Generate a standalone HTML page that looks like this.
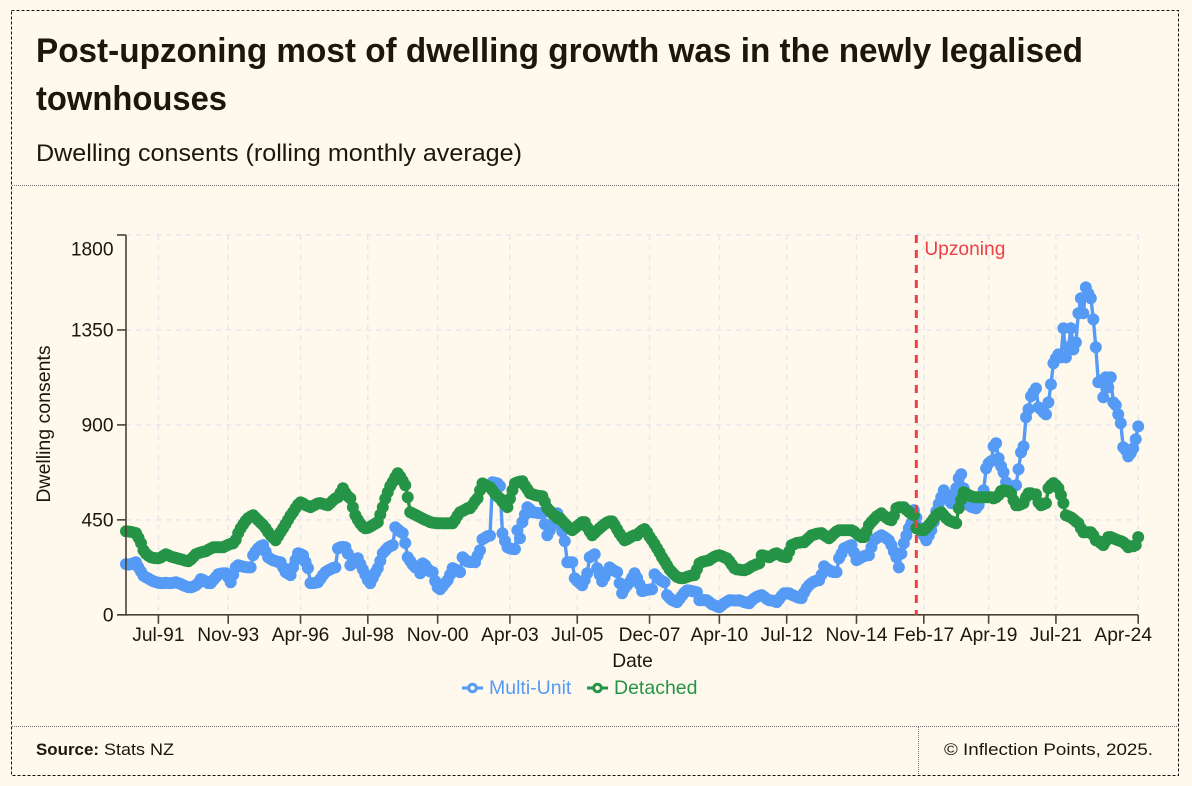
<!DOCTYPE html>
<html lang="en">
<head>
<meta charset="utf-8">
<title>Post-upzoning dwelling growth</title>
<style>
html,body{margin:0;padding:0;background:#FFF9ED;}
svg{display:block;}
text{font-family:"Liberation Sans",Arial,sans-serif;fill:#1c1708;}
</style>
</head>
<body>
<svg id="page" xmlns="http://www.w3.org/2000/svg" width="1192" height="786" viewBox="0 0 1192 786">
  <rect x="0" y="0" width="1192" height="786" fill="#FFF9ED"/>
  <rect x="11.5" y="10.5" width="1167" height="765" fill="none" stroke="#111" stroke-width="1" stroke-dasharray="3 2"/>
  <line x1="12" x2="1178" y1="185.5" y2="185.5" stroke="#777" stroke-width="1" stroke-dasharray="1 1"/>
  <line x1="12" x2="1178" y1="726.5" y2="726.5" stroke="#777" stroke-width="1" stroke-dasharray="1 1"/>
  <line x1="918.5" x2="918.5" y1="727" y2="775" stroke="#777" stroke-width="1" stroke-dasharray="1 1"/>

  <text x="36" y="62" font-size="34" font-weight="700" textLength="1047" lengthAdjust="spacingAndGlyphs">Post-upzoning most of dwelling growth was in the newly legalised</text>
  <text x="36" y="110" font-size="34" font-weight="700" textLength="191" lengthAdjust="spacingAndGlyphs">townhouses</text>
  <text x="36" y="161" font-size="24" textLength="486" lengthAdjust="spacingAndGlyphs">Dwelling consents (rolling monthly average)</text>

  <g id="plot"></g>

  <text transform="translate(50 424) rotate(-90)" text-anchor="middle" font-size="19.5">Dwelling consents</text>
  <text x="632.5" y="667" text-anchor="middle" font-size="19.2">Date</text>

  <g>
    <line x1="462" x2="483" y1="688" y2="688" stroke="#559BF5" stroke-width="3"/>
    <circle cx="472.5" cy="688" r="3.8" fill="#FFF9ED" stroke="#559BF5" stroke-width="3"/>
    <text x="489" y="694" font-size="19.5" style="fill:#559BF5">Multi-Unit</text>
  </g>
  <g>
    <line x1="587" x2="608" y1="688" y2="688" stroke="#269447" stroke-width="3"/>
    <circle cx="597.5" cy="688" r="3.8" fill="#FFF9ED" stroke="#269447" stroke-width="3"/>
    <text x="614" y="694" font-size="19.5" style="fill:#269447">Detached</text>
  </g>

  <text x="36" y="755" font-size="17" font-weight="700" textLength="63" lengthAdjust="spacingAndGlyphs">Source:</text>
  <text x="104" y="755" font-size="17" textLength="70" lengthAdjust="spacingAndGlyphs">Stats NZ</text>
  <text x="944" y="755" font-size="17" textLength="209" lengthAdjust="spacingAndGlyphs">© Inflection Points, 2025.</text>
</svg>

<script>
const firstMonth = 'Jun-90';
const multiUnit = [
240,238,240,245,249,225,205,185,178,172,
165,159,155,152,150,150,152,150,150,152,
154,150,146,140,135,131,130,134,140,150,
169,165,158,150,150,165,178,192,195,197,
197,178,154,190,225,235,232,228,226,225,
225,282,300,315,325,330,300,273,265,258,
255,250,249,225,202,195,188,225,260,292,
288,282,250,221,150,150,152,154,170,188,
202,210,216,222,225,315,320,322,320,290,
235,245,258,268,240,215,190,165,150,175,
200,221,255,292,305,318,325,330,415,405,
395,387,340,273,255,238,225,225,197,244,
235,218,205,202,160,130,121,135,150,164,
190,221,215,208,202,273,262,252,250,250,
249,280,306,358,365,372,375,628,626,623,
610,386,350,320,315,312,311,401,363,439,
475,510,500,486,485,483,482,481,430,377,
400,425,455,481,440,395,349,249,249,249,
173,160,150,140,165,197,273,280,287,221,
190,159,180,205,225,215,208,202,150,102,
125,140,154,175,197,175,145,112,115,118,
120,121,192,180,168,160,154,93,80,70,
65,60,75,90,105,116,115,112,110,107,
69,69,70,69,60,50,45,40,36,45,
55,62,69,69,68,68,69,65,60,57,
55,68,78,85,90,93,85,75,69,68,
65,60,75,90,102,102,102,95,90,85,
80,79,105,126,140,150,158,162,164,190,
230,220,212,205,202,202,268,290,315,320,
326,330,295,259,265,272,278,282,282,320,
353,362,370,377,370,362,353,330,300,273,
225,290,339,375,410,434,496,460,415,395,
375,353,375,401,440,490,525,557,590,570,
545,529,560,600,647,666,600,529,520,512,
508,505,519,
552,590,694,718,728,798,813,742,704,675,
628,604,600,609,614,690,770,798,936,974,
1036,1055,1073,983,974,960,950,1007,1092,1192,
1216,1234,1220,1358,1220,1268,1358,1258,1291,1429,
1500,1429,1552,1523,1500,1400,1268,1102,1111,1031,
1126,1078,1126,1007,993,950,908,794,780,751,
766,789,832,893
];
const detached = [
396,395,393,390,387,365,340,306,290,280,
273,270,268,268,272,280,287,282,276,273,
270,266,263,260,256,254,262,274,287,292,
296,299,301,308,314,320,320,320,320,320,
326,332,336,339,355,387,410,428,445,458,
466,472,460,448,436,425,410,392,377,365,
353,372,392,410,430,450,470,486,505,522,
533,528,520,515,510,516,522,528,529,526,
522,519,530,542,552,557,578,600,578,562,
552,510,472,450,432,418,410,412,418,425,
432,439,475,510,550,581,610,630,652,671,
655,635,614,557,486,480,474,468,462,456,
450,445,439,437,435,434,434,434,433,434,
434,434,450,470,486,492,498,505,505,520,
538,552,590,623,616,610,604,590,574,562,
552,536,522,510,550,590,623,628,631,633,
612,595,576,572,568,565,563,562,535,505,
492,480,470,458,458,445,432,420,410,401,
410,420,430,439,439,415,395,377,388,400,
410,420,430,438,443,443,425,405,385,368,
353,358,365,372,377,377,390,400,406,392,
370,353,335,315,295,273,255,235,215,202,
190,180,175,173,175,180,184,187,188,215,
244,250,253,256,259,268,275,280,282,278,
272,268,255,238,221,215,214,212,211,215,
222,230,235,240,244,282,280,276,273,280,
288,292,285,278,275,273,300,330,335,340,
342,344,344,355,366,377,380,384,386,387,
378,370,363,373,385,395,401,401,401,401,
401,401,395,385,375,368,368,395,425,440,
452,465,473,481,470,460,452,448,470,505,
510,510,510,498,488,478,472,410,405,402,
401,412,425,439,455,470,480,486,472,458,
448,443,438,434,505,545,581,575,568,562,
558,557,557,
557,557,557,557,557,552,557,567,586,590,
586,586,576,543,519,519,524,529,557,576,
576,571,571,533,519,524,529,600,614,624,
614,600,567,529,472,467,462,453,443,434,
410,391,391,391,391,377,353,349,339,330,
349,368,368,363,358,353,349,344,334,320,
325,325,330,368
];
const xTickLabels = ['Jul-91','Nov-93','Apr-96','Jul-98','Nov-00','Apr-03','Jul-05','Dec-07','Apr-10','Jul-12','Nov-14','Feb-17','Apr-19','Jul-21','Apr-24'];
const yTickValues = [0,450,900,1350,1800];
const eventDate = 'Nov-16';
const eventLabel = 'Upzoning';

const NS = 'http://www.w3.org/2000/svg';
const plot = document.getElementById('plot');
const MONTHS = ['Jan','Feb','Mar','Apr','May','Jun','Jul','Aug','Sep','Oct','Nov','Dec'];
const left = 126, right = 1138.2, top_ = 235, bottom = 614.8;

function monthIndex(label) {
  const parts = label.split('-');
  const yy = parseInt(parts[1], 10);
  const year = yy >= 50 ? 1900 + yy : 2000 + yy;
  return year * 12 + MONTHS.indexOf(parts[0]);
}
const m0 = monthIndex(firstMonth);
const m1 = monthIndex(xTickLabels[xTickLabels.length - 1]);
function xMonth(m) {
  return left + (m - m0) * (right - left) / (m1 - m0);
}
function xScale(label) {
  return xMonth(monthIndex(label));
}
function yScale(v) {
  return bottom - v * (bottom - top_) / 1800;
}
function svgEl(tag, attrs) {
  const el = document.createElementNS(NS, tag);
  for (const k in attrs) el.setAttribute(k, attrs[k]);
  plot.appendChild(el);
  return el;
}

// grid
yTickValues.forEach(function (v) {
  if (v === 0) return;
  const g = svgEl('line', {x1: left, x2: right, y1: yScale(v), y2: yScale(v), stroke: '#E7E8EC', 'stroke-width': 1.5, 'stroke-dasharray': '5 5'});
  
  
});
xTickLabels.forEach(function (t) {
  const g = svgEl('line', {x1: xScale(t), x2: xScale(t), y1: top_, y2: bottom, stroke: '#E7E8EC', 'stroke-width': 1.5, 'stroke-dasharray': '5 5'});
  
  
});

// series (one value per month from firstMonth)
function drawSeries(values, color, name) {
  const pts = values.map(function (v, i) { return xMonth(m0 + i) + ',' + yScale(v); }).join(' ');
  const line = svgEl('polyline', {points: pts, fill: 'none', stroke: color, 'stroke-width': 3.4, 'stroke-linejoin': 'round'});
  
  
  values.forEach(function (v, i) {
    const c = svgEl('circle', {cx: xMonth(m0 + i), cy: yScale(v), r: 6, fill: color});
    
    
  });
}
drawSeries(multiUnit, '#559BF5', 'multi-unit');
drawSeries(detached, '#269447', 'detached');

// axes
const axisColor = '#4A4232';
const yAxis = svgEl('line', {x1: left, x2: left, y1: top_, y2: bottom + 0.8, stroke: axisColor, 'stroke-width': 1.6});


const xAxis = svgEl('line', {x1: left - 9, x2: right, y1: bottom, y2: bottom, stroke: axisColor, 'stroke-width': 1.6});



yTickValues.forEach(function (v) {
  const y = yScale(v);
  const tick = svgEl('line', {x1: left - 9, x2: left, y1: y, y2: y, stroke: axisColor, 'stroke-width': 1.6});
  
  
  const label = svgEl('text', {x: 113.5, y: Math.max(y + 6.7, top_ + 20.5), 'text-anchor': 'end', 'font-size': 19.2});
  label.textContent = String(v);
  
  
});
xTickLabels.forEach(function (t) {
  const x = xScale(t);
  const tick = svgEl('line', {x1: x, x2: x, y1: bottom, y2: bottom + 9, stroke: axisColor, 'stroke-width': 1.6});
  
  
  const label = svgEl('text', {x: x, y: 641, 'text-anchor': 'middle', 'font-size': 19.2});
  label.textContent = t;
  
  
  const half = label.getComputedTextLength() / 2;
  label.setAttribute('x', Math.min(x, 1152 - half));
});

// event marker
const ex = xScale(eventDate);
const evLine = svgEl('line', {x1: ex, x2: ex, y1: top_, y2: bottom, stroke: '#EE3E46', 'stroke-width': 3, 'stroke-dasharray': '8 7'});


const evText = svgEl('text', {x: ex + 8, y: top_ + 20, 'font-size': 19.2, style: 'fill:#EE3E46'});
evText.textContent = eventLabel;


</script>
</body>
</html>
